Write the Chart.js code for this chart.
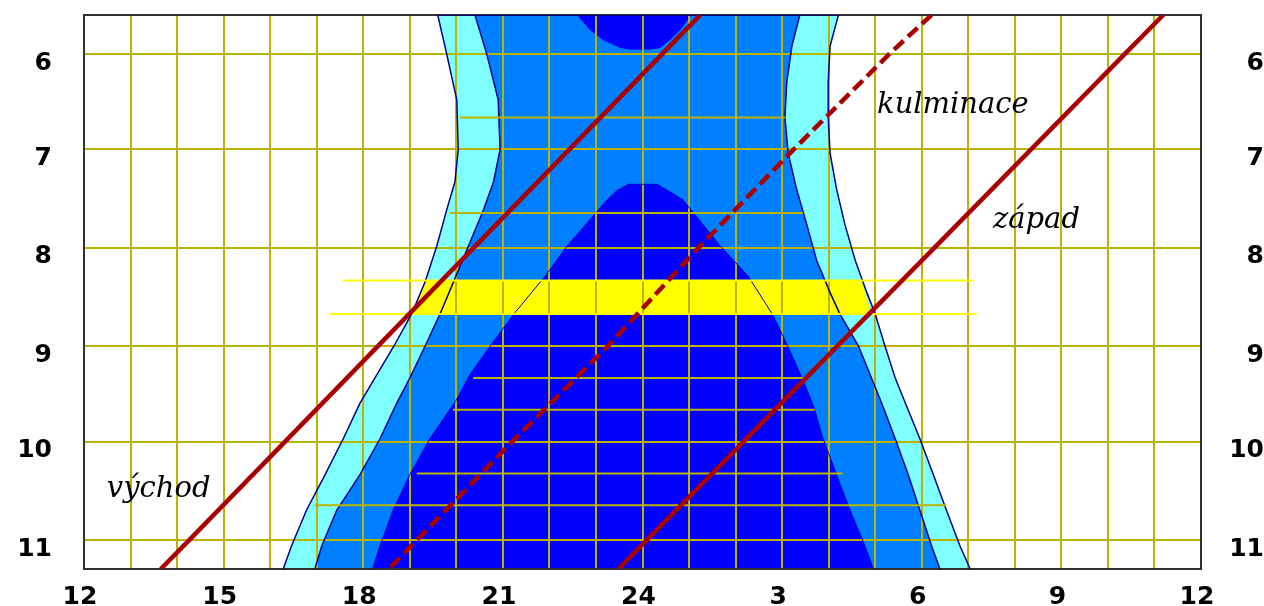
<!DOCTYPE html>
<html>
<head>
<meta charset="utf-8">
<script src="https://cdn.jsdelivr.net/npm/chart.js@4.4.1/dist/chart.umd.min.js"></script>
<style>
  html, body { margin: 0; padding: 0; background: #fff; }
  #wrap { width: 1264px; height: 606px; position: relative; }
</style>
</head>
<body>
<div id="wrap"><canvas id="chart"></canvas></div>
<script>
// x = hour of the night (12 .. 36 means noon to next noon), y = day of year
const hourTicks = [12, 15, 18, 21, 24, 27, 30, 33, 36];
const hourLabels = ["12", "15", "18", "21", "24", "3", "6", "9", "12"];
const monthDays = [152, 182, 213, 244, 274, 305];
const monthLabels = ["6", "7", "8", "9", "10", "11"];

// twilight / night boundaries
const outerLeftDays = [139.7, 151.8, 166.4, 182.1, 192.2, 201.2, 212.4, 223.7, 233.8, 243.9, 261.9, 273.1, 284.4, 295.6, 306.8, 314.1];
const outerLeftHours = [19.60, 19.79, 20.01, 20.04, 19.97, 19.79, 19.58, 19.33, 19.04, 18.66, 17.93, 17.57, 17.18, 16.78, 16.46, 16.28];
const innerLeftDays = [139.7, 151.8, 166.4, 182.1, 192.2, 201.2, 212.4, 223.7, 233.8, 243.9, 254.0, 261.9, 273.1, 284.4, 295.6, 306.8, 314.1];
const innerLeftHours = [20.40, 20.65, 20.90, 20.94, 20.80, 20.58, 20.26, 19.94, 19.65, 19.33, 19.00, 18.72, 18.36, 17.93, 17.43, 17.11, 16.96];
const innerRightDays = [139.7, 149.5, 160.8, 172.0, 183.2, 194.5, 205.7, 216.9, 227.1, 233.8, 243.9, 254.0, 263.0, 273.1, 284.4, 295.6, 306.8, 314.1];
const innerRightHours = [27.38, 27.21, 27.10, 27.06, 27.13, 27.31, 27.53, 27.74, 28.03, 28.24, 28.64, 28.92, 29.17, 29.43, 29.71, 29.96, 30.21, 30.39];
const outerRightDays = [139.7, 149.5, 160.8, 172.0, 183.2, 194.5, 205.7, 216.9, 227.1, 233.8, 243.9, 254.0, 263.0, 273.1, 284.4, 295.6, 306.8, 314.1];
const outerRightHours = [28.21, 28.03, 27.99, 27.99, 28.03, 28.17, 28.35, 28.57, 28.82, 29.00, 29.21, 29.43, 29.68, 29.96, 30.25, 30.53, 30.82, 31.04];

const darkLeftDays = [314.1, 306.8, 295.6, 284.4, 273.1, 260.9, 252.7, 243.9, 234.1, 221.9, 212.4, 197.9, 195.0, 193.0];
const darkLeftHours = [18.20, 18.36, 18.64, 19.00, 19.43, 20.00, 20.30, 20.73, 21.22, 21.91, 22.38, 23.24, 23.45, 23.69];
const darkRightDays = [193.0, 195.0, 197.9, 212.4, 221.9, 234.1, 243.9, 254.0, 263.0, 273.1, 284.4, 295.6, 306.8, 314.1];
const darkRightHours = [24.31, 24.55, 24.87, 25.67, 26.27, 26.80, 27.12, 27.43, 27.68, 27.88, 28.17, 28.46, 28.78, 28.96];

const blobDays = [139.7, 144.4, 147.6, 150.1, 150.6, 150.6, 150.1, 147.6, 144.4, 139.7];
const blobHours = [22.59, 22.87, 23.15, 23.52, 23.75, 24.15, 24.38, 24.59, 24.81, 25.06];

// highlighted period
const bandDays = [223.3, 223.3, 233.8, 233.8];
const bandHours = [19.33, 28.71, 28.92, 19.04];
const bandLineDays = [223.3, 233.8];
const bandLineFrom = [17.56, 17.27];
const bandLineTo = [31.11, 31.18];

// extra 10-day grid lines inside the night area
const tenDays = [172, 202, 254, 264, 284, 294];
const tenFrom = [20.08, 19.86, 20.36, 19.93, 19.15, 16.96];
const tenTo = [27.06, 27.45, 27.45, 27.70, 28.30, 30.53];

// rise, transit, set
const lineDays = [139.7, 152, 182, 213, 244, 274, 305, 314.1];
const riseHours = [25.24, 24.42, 22.43, 20.37, 18.31, 16.32, 14.26, 13.65];
const transitHours = [30.21, 29.30, 27.25, 25.20, 23.25, 21.20, 19.15, 18.55];
const setHours = [35.19, 34.36, 32.35, 30.27, 28.18, 26.17, 24.09, 23.48];

const nameTexts = ["kulminace", "západ", "východ"];
const nameHours = [29.04, 31.53, 12.49];
const nameDays = [170.5, 206.7, 291.4];

const pts = (days, hours) => days.map((d, i) => ({ x: hours[i], y: d }));

const gridColor = "rgb(186,180,0)";
const edgeColor = "#000090";
const red = "#aa0000";

function region(points, color, border, width) {
  return {
    data: points,
    backgroundColor: color,
    borderColor: border,
    borderWidth: width,
    fill: "shape",
    pointRadius: 0,
    tension: 0,
  };
}

function plainLine(points, color, width, dash) {
  return {
    data: points,
    borderColor: color,
    borderWidth: width,
    borderDash: dash || [],
    fill: false,
    pointRadius: 0,
    tension: 0,
  };
}

const datasets = [
  plainLine(pts(lineDays, riseHours), red, 4.5),
  plainLine(pts(lineDays, transitHours), red, 4.5, [13, 6]),
  plainLine(pts(lineDays, setHours), red, 4.5),
];
bandLineDays.forEach((d, i) => {
  datasets.push(plainLine([{ x: bandLineFrom[i], y: d }, { x: bandLineTo[i], y: d }], "#ffff00", 2));
});
tenDays.forEach((d, i) => {
  datasets.push(plainLine([{ x: tenFrom[i], y: d }, { x: tenTo[i], y: d }], gridColor, 2));
});
datasets.push(region(pts(bandDays, bandHours), "#ffff00", "#ffff00", 0));
datasets.push(region(pts(blobDays, blobHours), "#0000ff", "#0000ff", 0));
datasets.push(region(pts(darkLeftDays, darkLeftHours).concat(pts(darkRightDays, darkRightHours)), "#0000ff", "#0000c8", 1));
datasets.push(region(pts(innerLeftDays, innerLeftHours).reverse().concat(pts(innerRightDays, innerRightHours)), "#0080ff", edgeColor, 1.5));
datasets.push(region(pts(outerLeftDays, outerLeftHours).reverse().concat(pts(outerRightDays, outerRightHours)), "#80ffff", edgeColor, 1.5));

const namesPlugin = {
  id: "curveNames",
  afterDatasetsDraw(chart) {
    const { ctx, scales } = chart;
    ctx.save();
    ctx.font = "italic 29px 'DejaVu Serif'";
    ctx.fillStyle = "#000";
    ctx.textBaseline = "alphabetic";
    ctx.textAlign = "left";
    nameTexts.forEach((t, i) => {
      ctx.fillText(t, scales.x.getPixelForValue(nameHours[i]), scales.y.getPixelForValue(nameDays[i]));
    });
    ctx.restore();
  },
};

const tickFont = { family: "DejaVu Sans", weight: "bold", size: 25 };
const border = { display: true, color: "#303030", width: 2 };
const monthTicks = (s) => { s.ticks = monthDays.map((v) => ({ value: v })); };
const monthLabel = (v) => monthLabels[monthDays.indexOf(v)];

new Chart(document.getElementById("chart"), {
  type: "line",
  data: { datasets: datasets },
  options: {
    responsive: true,
    maintainAspectRatio: false,
    animation: false,
    layout: { padding: { top: 15, left: 0, right: 0, bottom: 0 } },
    plugins: {
      legend: { display: false },
      tooltip: { enabled: false },
      filler: { drawTime: "beforeDraw" },
    },
    scales: {
      x: {
        type: "linear",
        position: "bottom",
        min: 12,
        max: 36,
        border: border,
        grid: { color: gridColor, lineWidth: 2, drawTicks: true, tickLength: 13, tickColor: "rgba(0,0,0,0)" },
        ticks: {
          stepSize: 1,
          autoSkip: false,
          maxRotation: 0,
          padding: 0,
          labelOffset: -4,
          color: "#000",
          font: tickFont,
          callback: (v) => {
            const i = hourTicks.indexOf(v);
            return i >= 0 ? hourLabels[i] : "";
          },
        },
        afterFit: (s) => { s.height = 37; },
      },
      x2: {
        type: "linear",
        position: "top",
        min: 12,
        max: 36,
        border: border,
        grid: { display: false, drawTicks: false },
        ticks: { display: false },
        afterFit: (s) => { s.height = 0; },
      },
      y: {
        type: "linear",
        position: "left",
        reverse: true,
        min: 139.7,
        max: 314.1,
        border: border,
        grid: { color: gridColor, lineWidth: 2, drawTicks: true, tickLength: 32, tickColor: "rgba(0,0,0,0)" },
        afterBuildTicks: monthTicks,
        ticks: { padding: 0, labelOffset: 9, color: "#000", font: tickFont, callback: monthLabel },
        afterFit: (s) => { s.width = 84; },
      },
      y2: {
        type: "linear",
        position: "right",
        reverse: true,
        min: 139.7,
        max: 314.1,
        border: border,
        grid: { display: false, drawTicks: true, tickLength: 18, tickColor: "rgba(0,0,0,0)" },
        afterBuildTicks: monthTicks,
        ticks: { padding: 0, labelOffset: 9, crossAlign: "far", color: "#000", font: tickFont, callback: monthLabel },
        afterFit: (s) => { s.width = 63; },
      },
    },
  },
  plugins: [namesPlugin],
});
</script>
</body>
</html>
